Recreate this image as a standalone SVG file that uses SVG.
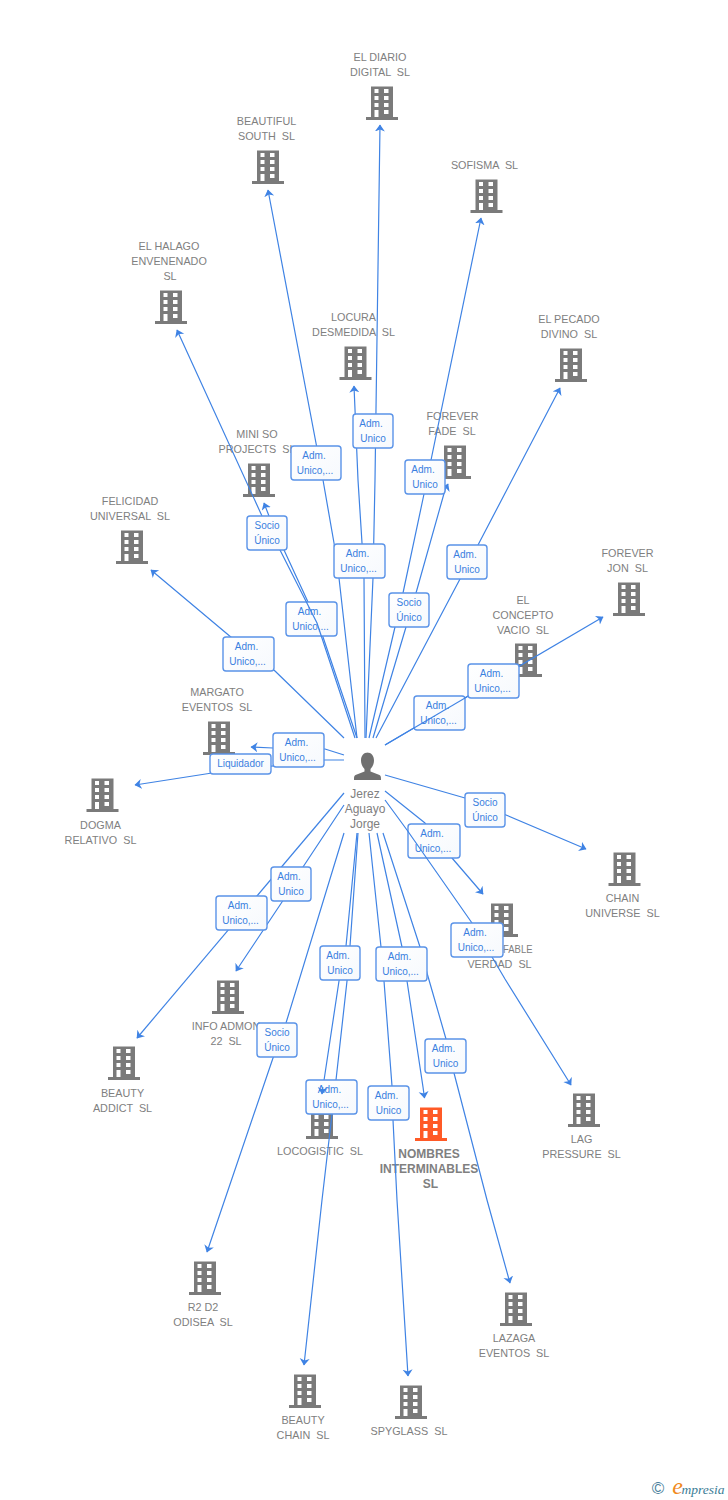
<svg xmlns="http://www.w3.org/2000/svg" width="728" height="1500" viewBox="0 0 728 1500">
<style>
text{font-family:"Liberation Sans",Arial,sans-serif;text-anchor:middle;white-space:pre}
.n{font-size:10.8px;fill:#808080}
.b{font-size:12px;font-weight:bold;fill:#808080}
.p{font-size:12px;fill:#808080}
.l{font-size:10px;fill:#3a7fe0}
.e{fill:none;stroke:#3f83e4;stroke-width:1.2;stroke-linejoin:round}
.r{fill:url(#g);stroke:#5a93e8;stroke-width:1.4}
</style>
<defs>
<linearGradient id="g" x1="0" y1="0" x2="1" y2="1"><stop offset="0" stop-color="#fff"/><stop offset="1" stop-color="#f6f9fd"/></linearGradient>
<marker id="a" markerWidth="9" markerHeight="11" refX="6.500" refY="5" orient="auto" markerUnits="userSpaceOnUse"><path d="M0 0L7 5L0 10L2 5Z" fill="#3f83e4"/></marker>
<symbol id="bd" viewBox="0 0 32 34" width="32" height="34" overflow="visible">
<path fill-rule="evenodd" d="M5 .500H27V31H32V34H0V31H5ZM8.500 3v4h4v-4ZM18 3v4h4.500v-4ZM8.500 10v4h4v-4ZM18 10v4h4.500v-4ZM8.500 17v4h4v-4ZM18 17v4h4.500v-4ZM8.500 24v7h4v-7ZM18 24v4h4.500v-4Z"/>
</symbol>
</defs>
<g id="nodes">
<g id="n1" fill="#7a7a7a"><use href="#bd" x="366" y="86"/><text class="n" x="380" y="61">EL DIARIO</text><text class="n" x="380" y="76">DIGITAL  SL</text></g>
<g id="n2" fill="#7a7a7a"><use href="#bd" x="252" y="150"/><text class="n" x="266.500" y="125">BEAUTIFUL</text><text class="n" x="266.500" y="140">SOUTH  SL</text></g>
<g id="n3" fill="#7a7a7a"><use href="#bd" x="470.500" y="179"/><text class="n" x="484.500" y="169">SOFISMA  SL</text></g>
<g id="n4" fill="#7a7a7a"><use href="#bd" x="155" y="290"/><text class="n" x="169" y="250">EL HALAGO</text><text class="n" x="169" y="265">ENVENENADO</text><text class="n" x="170" y="280">SL</text></g>
<g id="n5" fill="#7a7a7a"><use href="#bd" x="339.500" y="346"/><text class="n" x="353.500" y="321">LOCURA</text><text class="n" x="353.500" y="336">DESMEDIDA  SL</text></g>
<g id="n6" fill="#7a7a7a"><use href="#bd" x="555" y="348"/><text class="n" x="569" y="323">EL PECADO</text><text class="n" x="569" y="338">DIVINO  SL</text></g>
<g id="n7" fill="#7a7a7a"><use href="#bd" x="439" y="445"/><text class="n" x="452.500" y="420">FOREVER</text><text class="n" x="452" y="435">FADE  SL</text></g>
<g id="n8" fill="#7a7a7a"><use href="#bd" x="243" y="463"/><text class="n" x="257" y="438">MINI SO</text><text class="n" x="257" y="453">PROJECTS  SL</text></g>
<g id="n9" fill="#7a7a7a"><use href="#bd" x="116" y="530"/><text class="n" x="130" y="505">FELICIDAD</text><text class="n" x="130" y="520">UNIVERSAL  SL</text></g>
<g id="n10" fill="#7a7a7a"><use href="#bd" x="613" y="582"/><text class="n" x="627.500" y="557">FOREVER</text><text class="n" x="627.500" y="572">JON  SL</text></g>
<g id="n11" fill="#7a7a7a"><use href="#bd" x="510" y="643"/><text class="n" x="523" y="604">EL</text><text class="n" x="523" y="619">CONCEPTO</text><text class="n" x="523" y="634">VACIO  SL</text></g>
<g id="n12" fill="#7a7a7a"><use href="#bd" x="203" y="721"/><text class="n" x="217" y="696">MARGATO</text><text class="n" x="217" y="711">EVENTOS  SL</text></g>
<g id="n13" fill="#7a7a7a"><use href="#bd" x="86.500" y="778"/><text class="n" x="100.500" y="829">DOGMA</text><text class="n" x="100.500" y="844">RELATIVO  SL</text></g>
<g id="n14" fill="#7a7a7a"><use href="#bd" x="608.500" y="852"/><text class="n" x="622.500" y="902">CHAIN</text><text class="n" x="622.500" y="917">UNIVERSE  SL</text></g>
<g id="n15" fill="#7a7a7a"><use href="#bd" x="486" y="903"/><text class="n" x="503" y="953" style="text-anchor:start" textLength="29.500" lengthAdjust="spacingAndGlyphs">FABLE</text><text class="n" x="499.500" y="968">VERDAD  SL</text></g>
<g id="n16" fill="#7a7a7a"><use href="#bd" x="212" y="980"/><text class="n" x="226" y="1030">INFO ADMON</text><text class="n" x="226" y="1045">22  SL</text></g>
<g id="n17" fill="#7a7a7a"><use href="#bd" x="108" y="1046"/><text class="n" x="122.500" y="1097">BEAUTY</text><text class="n" x="122.500" y="1112">ADDICT  SL</text></g>
<g id="n18" fill="#7a7a7a"><use href="#bd" x="306" y="1105"/><text class="n" x="320" y="1155">LOCOGISTIC  SL</text></g>
<g id="n19" fill="#ff5a26"><use href="#bd" x="415" y="1107"/><text class="b" x="429" y="1158">NOMBRES</text><text class="b" x="429" y="1173">INTERMINABLES</text><text class="b" x="430.500" y="1188">SL</text></g>
<g id="n20" fill="#7a7a7a"><use href="#bd" x="568" y="1093"/><text class="n" x="581.500" y="1143">LAG</text><text class="n" x="581.500" y="1158">PRESSURE  SL</text></g>
<g id="n21" fill="#7a7a7a"><use href="#bd" x="189" y="1261"/><text class="n" x="203" y="1311">R2 D2</text><text class="n" x="203" y="1326">ODISEA  SL</text></g>
<g id="n22" fill="#7a7a7a"><use href="#bd" x="500" y="1292"/><text class="n" x="514" y="1342">LAZAGA</text><text class="n" x="514" y="1357">EVENTOS  SL</text></g>
<g id="n23" fill="#7a7a7a"><use href="#bd" x="289" y="1374"/><text class="n" x="303" y="1424">BEAUTY</text><text class="n" x="303" y="1439">CHAIN  SL</text></g>
<g id="n24" fill="#7a7a7a"><use href="#bd" x="395" y="1385"/><text class="n" x="409" y="1435">SPYGLASS  SL</text></g>
<g id="person">
<path fill="#707070" d="M367 753c4.500 0 7 3.500 7 8c0 4-2 7-3.500 8.500v2.500l9 3.500c1.500 .7 1.500 2 1.500 5h-27c0-3 0-4.300 1.500-5l9-3.500v-2.500c-1.500-1.500-3.500-4.500-3.500-8.500c0-4.500 2.500-8 7-8Z" transform="translate(0 -.500)"/>
<text class="p" x="365" y="798">Jerez</text><text class="p" x="365" y="813">Aguayo</text><text class="p" x="365" y="828">Jorge</text>
</g>
</g>
<g id="connectors">
<path class="e" marker-end="url(#a)" d="M366 738L373 578L375 480L380 125"/>
<path class="e" marker-end="url(#a)" d="M357 738L339 578L334 543L323 480L268 190"/>
<path class="e" marker-end="url(#a)" d="M369 738L395 627L403 593L424 494L481 218"/>
<path class="e" marker-end="url(#a)" d="M365 738L364 578L362 543L358 480L354 386"/>
<path class="e" marker-end="url(#a)" d="M376 738L460 579L478 545L560 388"/>
<path class="e" marker-end="url(#a)" d="M373 738L406 627L416 593L445 490L448 484"/>
<path class="e" d="M357 738L323 637L308 602L284 550L269 516L264 503" marker-end="url(#a)"/>
<path class="e" marker-end="url(#a)" d="M344 738L275 671L232 638L151 570"/>
<path class="e" d="M385 745L468 696L519 667"/>
<path class="e" marker-end="url(#a)" d="M344 755L325 749L273 748L251 747"/>
<path class="e" marker-end="url(#a)" d="M344 760L325 760L212 773L135 785"/>
<path class="e" marker-end="url(#a)" d="M385 775L465 798L506 815L586 849"/>
<path class="e" marker-end="url(#a)" d="M385 791L425 823L452 858L483 894"/>
<path class="e" marker-end="url(#a)" d="M344 805L303 867L282 902L250 950L236 971"/>
<path class="e" marker-end="url(#a)" d="M344 793L137 1038"/>
<path class="e" marker-end="url(#a)" d="M344 833L286 1023L273 1058L207 1252"/>
<path class="e" marker-end="url(#a)" d="M358 833L350 946L347 981L336 1080L322 1200L304 1365"/>
<path class="e" d="M357 833L346 946L339 981L323 1087"/>
<path class="e" marker-end="url(#a)" d="M377 833L402 947L407 981L423 1087L424.500 1098"/>
<path class="e" marker-end="url(#a)" d="M369 833L381 947L384 981L392 1086L393 1120L397 1200L408 1376"/>
<path class="e" marker-end="url(#a)" d="M383 833L420 947L427 973L446 1039L454 1073L487 1200L510 1283"/>
<g id="labels">
<g><rect class="r" x="291" y="446" width="50" height="34" rx="3"/><text class="l" x="314" y="459">Adm.</text><text class="l" x="315" y="474">Unico,...</text></g>
<g><rect class="r" x="353" y="414" width="40" height="34" rx="3"/><text class="l" x="371" y="427">Adm.</text><text class="l" x="373" y="442">Unico</text></g>
<g><rect class="r" x="405" y="460" width="40" height="34" rx="3"/><text class="l" x="423" y="473">Adm.</text><text class="l" x="425" y="488">Unico</text></g>
<g><rect class="r" x="334" y="544" width="51" height="34" rx="3"/><text class="l" x="357.500" y="557">Adm.</text><text class="l" x="358.500" y="572">Unico,...</text></g>
<g><rect class="r" x="447" y="545" width="40" height="34" rx="3"/><text class="l" x="465" y="558">Adm.</text><text class="l" x="467" y="573">Unico</text></g>
<g><rect class="r" x="286" y="602" width="51" height="34" rx="3"/><text class="l" x="309.500" y="615">Adm.</text><text class="l" x="310.500" y="630">Unico,...</text></g>
<path class="e" marker-end="url(#a)" d="M355 738L317 623L280 550L262 516L177 330"/>
<g><rect class="r" x="247" y="516" width="40" height="34" rx="3"/><text class="l" x="267" y="529">Socio</text><text class="l" x="267" y="544">Único</text></g>
<g><rect class="r" x="389" y="593" width="40" height="34" rx="3"/><text class="l" x="409" y="606">Socio</text><text class="l" x="409" y="621">Único</text></g>
<g><rect class="r" x="223" y="637" width="51" height="34" rx="3"/><text class="l" x="246.500" y="650">Adm.</text><text class="l" x="247.500" y="665">Unico,...</text></g>
<g><rect class="r" x="414" y="696" width="51" height="34" rx="3"/><text class="l" x="437.500" y="709">Adm.</text><text class="l" x="438.500" y="724">Unico,...</text></g>
<path class="e" marker-end="url(#a)" d="M385 745L603 617"/>
<g><rect class="r" x="468" y="664" width="51" height="34" rx="3"/><text class="l" x="491.500" y="677">Adm.</text><text class="l" x="492.500" y="692">Unico,...</text></g>
<g><rect class="r" x="273" y="733" width="51" height="34" rx="3"/><text class="l" x="296.500" y="746">Adm.</text><text class="l" x="297.500" y="761">Unico,...</text></g>
<g><rect class="r" x="210" y="754" width="61" height="20" rx="3"/><text class="l" x="240.500" y="767">Liquidador</text></g>
<g><rect class="r" x="465" y="793" width="40" height="34" rx="3"/><text class="l" x="485" y="806">Socio</text><text class="l" x="485" y="821">Único</text></g>
<g><rect class="r" x="408" y="824" width="52" height="34" rx="3"/><text class="l" x="432" y="837">Adm.</text><text class="l" x="433" y="852">Unico,...</text></g>
<path class="e" marker-end="url(#a)" d="M385 800L407 830L472 923L505 979L571 1085"/>
<g><rect class="r" x="271" y="867" width="40" height="34" rx="3"/><text class="l" x="289" y="880">Adm.</text><text class="l" x="291" y="895">Unico</text></g>
<g><rect class="r" x="216" y="896" width="51" height="34" rx="3"/><text class="l" x="239.500" y="909">Adm.</text><text class="l" x="240.500" y="924">Unico,...</text></g>
<g><rect class="r" x="451" y="923" width="52" height="34" rx="3"/><text class="l" x="475" y="936">Adm.</text><text class="l" x="476" y="951">Unico,...</text></g>
<g><rect class="r" x="320" y="946" width="40" height="34" rx="3"/><text class="l" x="338" y="959">Adm.</text><text class="l" x="340" y="974">Unico</text></g>
<g><rect class="r" x="376" y="947" width="51" height="34" rx="3"/><text class="l" x="399.500" y="960">Adm.</text><text class="l" x="400.500" y="975">Unico,...</text></g>
<g><rect class="r" x="257" y="1023" width="40" height="34" rx="3"/><text class="l" x="277" y="1036">Socio</text><text class="l" x="277" y="1051">Único</text></g>
<g><rect class="r" x="425" y="1039" width="41" height="34" rx="3"/><text class="l" x="443.500" y="1052">Adm.</text><text class="l" x="445.500" y="1067">Unico</text></g>
<g><rect class="r" x="306" y="1080" width="51" height="34" rx="3"/><text class="l" x="329.500" y="1093">Adm.</text><text class="l" x="330.500" y="1108">Unico,...</text></g>
<path class="e" d="M322.800 1087L322 1094" marker-end="url(#a)"/>
<g><rect class="r" x="368" y="1086" width="41" height="34" rx="3"/><text class="l" x="386.500" y="1099">Adm.</text><text class="l" x="388.500" y="1114">Unico</text></g>
</g>
</g>
<g id="logo">
<text x="658" y="1494" style="font-size:17px;fill:#4a7f9c">©</text>
<text x="677.500" y="1494" style="font-size:24px;font-style:italic;fill:#f08a1d;font-family:'Liberation Serif',serif">e</text>
<text x="703" y="1494" style="font-size:13.500px;font-style:italic;fill:#3a7d96;font-family:'Liberation Serif',serif">mpresia</text>
</g>
</svg>
